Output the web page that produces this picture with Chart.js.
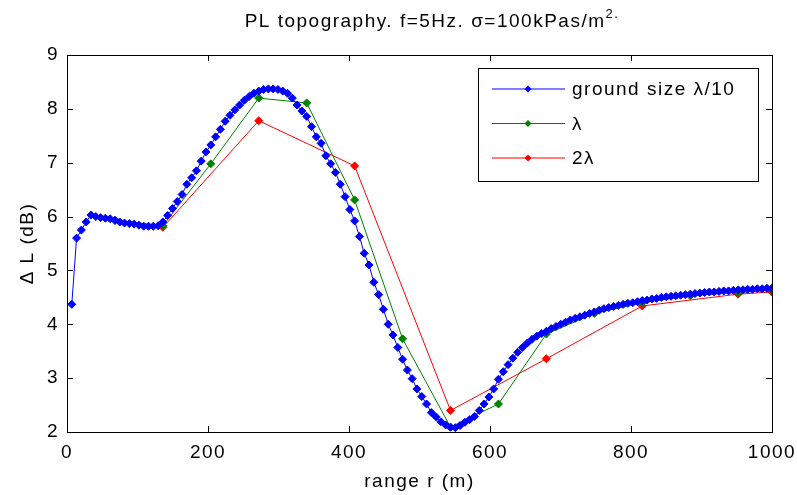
<!DOCTYPE html>
<html>
<head>
<meta charset="utf-8">
<script src="https://cdn.jsdelivr.net/npm/chart.js@4.4.1/dist/chart.umd.min.js"></script>
<style>
  html, body { margin: 0; padding: 0; background: #fff; }
  #wrap { width: 797px; height: 495px; }
</style>
</head>
<body>
<div id="wrap"><canvas id="plot" width="797" height="495"></canvas></div>
<script>
// PL topography, f=5Hz -- three ground discretisations

const FONT = '"Liberation Sans", Arial, Helvetica, sans-serif';
const SPACING = '1.5px';   // old matlab text is wide, widen it a bit

// fine grid: one point every lambda/10 (6.8 m)
const fineStep = 6.8;
const fineDL = [
    4.37, 5.60, 5.75, 5.90, 6.03, 6.00, 5.98, 5.97, 5.96, 5.93,
    5.90, 5.88, 5.87, 5.86, 5.84, 5.82, 5.82, 5.82, 5.83, 5.90,
    6.02, 6.15, 6.28, 6.41, 6.60, 6.72, 6.85, 7.03, 7.20, 7.33,
    7.48, 7.62, 7.77, 7.88, 7.98, 8.07, 8.16, 8.23, 8.29, 8.33,
    8.36, 8.37, 8.37, 8.36, 8.33, 8.29, 8.20, 8.07, 7.96, 7.86,
    7.67, 7.48, 7.36, 7.13, 6.98, 6.82, 6.60, 6.37, 6.13, 5.92,
    5.63, 5.32, 5.10, 4.78, 4.55, 4.28, 4.00, 3.80, 3.57, 3.35,
    3.15, 2.99, 2.80, 2.66, 2.52, 2.36, 2.28, 2.19, 2.13, 2.09,
    2.08, 2.12, 2.18, 2.23, 2.29, 2.40, 2.52, 2.65, 2.80, 2.98,
    3.12, 3.25, 3.37, 3.48, 3.57, 3.65, 3.72, 3.78, 3.83, 3.87,
    3.92, 3.96, 4.00, 4.04, 4.08, 4.11, 4.14, 4.17, 4.20, 4.23,
    4.26, 4.29, 4.31, 4.33, 4.35, 4.37, 4.39, 4.40, 4.42, 4.44,
    4.45, 4.47, 4.48, 4.50, 4.51, 4.52, 4.53, 4.54, 4.55, 4.56,
    4.57, 4.58, 4.59, 4.60, 4.60, 4.61, 4.62, 4.62, 4.63, 4.64,
    4.64, 4.65, 4.65, 4.66, 4.66, 4.67, 4.67
];

// one point per wavelength
const lambdaR  = [68, 136, 204, 272, 340, 408, 476, 544, 612, 680, 748, 816, 884, 952, 1000];
const lambdaDL = [5.93, 5.83, 6.98, 8.20, 8.11, 6.31, 3.73, 2.09, 2.52, 3.82, 4.20, 4.40, 4.53, 4.59, 4.63];

// one point per two wavelengths
const twoLambdaR  = [136, 272, 408, 544, 680, 816, 952, 1000];
const twoLambdaDL = [5.80, 7.78, 6.94, 2.40, 3.36, 4.34, 4.56, 4.60];

const seriesNames  = ['ground size \u03BB/10', '\u03BB', '2\u03BB'];
const seriesColors = ['#0000ff', '#008000', '#ff0000'];

const xTicks = [0, 200, 400, 600, 800, 1000];
const yTicks = [2, 3, 4, 5, 6, 7, 8, 9];

function toPoints(xs, ys) {
    return ys.map((y, i) => ({ x: xs[i], y: y }));
}
const fineR = fineDL.map((_, i) => (i + 1) * fineStep);

// wide text everywhere
const spacingPlugin = {
    id: 'spacing',
    beforeUpdate(chart) { chart.ctx.letterSpacing = SPACING; },
    beforeDraw(chart) { chart.ctx.letterSpacing = SPACING; }
};

// frame, inward tick marks, title and legend box drawn like the original figure
const figurePlugin = {
    id: 'figure',
    afterDraw(chart) {
        const c = chart.ctx;
        const a = chart.chartArea;
        const xs = chart.scales.x, ys = chart.scales.y;
        c.save();
        c.letterSpacing = SPACING;
        c.strokeStyle = '#000';
        c.lineWidth = 1;
        c.strokeRect(a.left + 0.5, a.top + 0.5, a.right - a.left, a.bottom - a.top);
        c.beginPath();
        xTicks.forEach(v => {
            const px = Math.round(xs.getPixelForValue(v)) + 0.5;
            c.moveTo(px, a.bottom); c.lineTo(px, a.bottom - 6);
            c.moveTo(px, a.top); c.lineTo(px, a.top + 6);
        });
        yTicks.forEach(v => {
            const py = Math.round(ys.getPixelForValue(v)) + 0.5;
            c.moveTo(a.left, py); c.lineTo(a.left + 6, py);
            c.moveTo(a.right, py); c.lineTo(a.right - 6, py);
        });
        c.stroke();

        // title with superscript
        const main = 'PL topography. f=5Hz. \u03C3=100kPas/m';
        const sup = '2.';
        c.fillStyle = '#000';
        c.textBaseline = 'alphabetic';
        c.textAlign = 'left';
        c.font = '19px ' + FONT;
        const w1 = c.measureText(main).width;
        c.font = '13px ' + FONT;
        const w2 = c.measureText(sup).width;
        const tx = 432 - (w1 + w2) / 2;
        c.font = '19px ' + FONT;
        c.fillText(main, tx, 27);
        c.font = '13px ' + FONT;
        c.fillText(sup, tx + w1, 18);

        // legend
        const box = { x: 478, y: 68, w: 280, h: 113 };
        c.fillStyle = '#fff';
        c.fillRect(box.x, box.y, box.w, box.h);
        c.strokeStyle = '#000';
        c.strokeRect(box.x + 0.5, box.y + 0.5, box.w, box.h);
        c.font = '19px ' + FONT;
        c.textBaseline = 'middle';
        chart.data.datasets.forEach((ds, i) => {
            const y = box.y + 21 + i * 34.5;
            c.strokeStyle = ds.borderColor;
            c.lineWidth = 1;
            c.beginPath();
            c.moveTo(box.x + 14, y); c.lineTo(box.x + 87, y);
            c.stroke();
            c.fillStyle = ds.borderColor;
            c.beginPath();
            c.moveTo(box.x + 50, y - 3.5); c.lineTo(box.x + 53.5, y);
            c.lineTo(box.x + 50, y + 3.5); c.lineTo(box.x + 46.5, y);
            c.closePath(); c.fill();
            c.fillStyle = '#000';
            c.fillText(ds.label, box.x + 94, y + 1);
        });
        c.restore();
    }
};

function lineSet(label, color, pts, radius) {
    return {
        label: label,
        data: pts,
        borderColor: color,
        backgroundColor: color,
        borderWidth: 1,
        pointStyle: 'rectRot',
        pointRadius: radius,
        pointBorderWidth: 1,
        pointHoverRadius: radius,
        tension: 0
    };
}

new Chart(document.getElementById('plot').getContext('2d'), {
    type: 'line',
    data: {
        datasets: [
            lineSet(seriesNames[0], seriesColors[0], toPoints(fineR, fineDL), 4),
            lineSet(seriesNames[1], seriesColors[1], toPoints(lambdaR, lambdaDL), 4),
            lineSet(seriesNames[2], seriesColors[2], toPoints(twoLambdaR, twoLambdaDL), 4)
        ]
    },
    options: {
        responsive: false,
        animation: false,
        layout: { padding: { top: 55, right: 25, left: 0, bottom: 0 } },
        plugins: {
            legend: { display: false },
            title: { display: false },
            tooltip: { enabled: false }
        },
        scales: {
            x: {
                type: 'linear',
                min: 0,
                max: 1000,
                afterBuildTicks: s => { s.ticks = xTicks.map(v => ({ value: v })); },
                afterFit: s => { s.height = 63; s.paddingLeft = 0; s.paddingRight = 0; },
                ticks: { color: '#000', font: { family: FONT, size: 19 }, padding: 9, maxRotation: 0,
                         callback: v => String(v) },
                grid: { display: false, drawTicks: false },
                border: { display: false },
                title: { display: true, text: 'range r (m)', color: '#000',
                         font: { family: FONT, size: 19 }, padding: { bottom: 2 } }
            },
            y: {
                type: 'linear',
                min: 2,
                max: 9,
                afterBuildTicks: s => { s.ticks = yTicks.map(v => ({ value: v })); },
                afterFit: s => { s.width = 67; s.paddingTop = 0; s.paddingBottom = 0; },
                ticks: { color: '#000', font: { family: FONT, size: 19 }, padding: 8,
                         callback: v => String(v) },
                grid: { display: false, drawTicks: false },
                border: { display: false },
                title: { display: true, text: '\u0394 L (dB)', color: '#000',
                         font: { family: FONT, size: 19 }, padding: { top: 16 } }
            }
        }
    },
    plugins: [spacingPlugin, figurePlugin]
});
</script>
</body>
</html>
